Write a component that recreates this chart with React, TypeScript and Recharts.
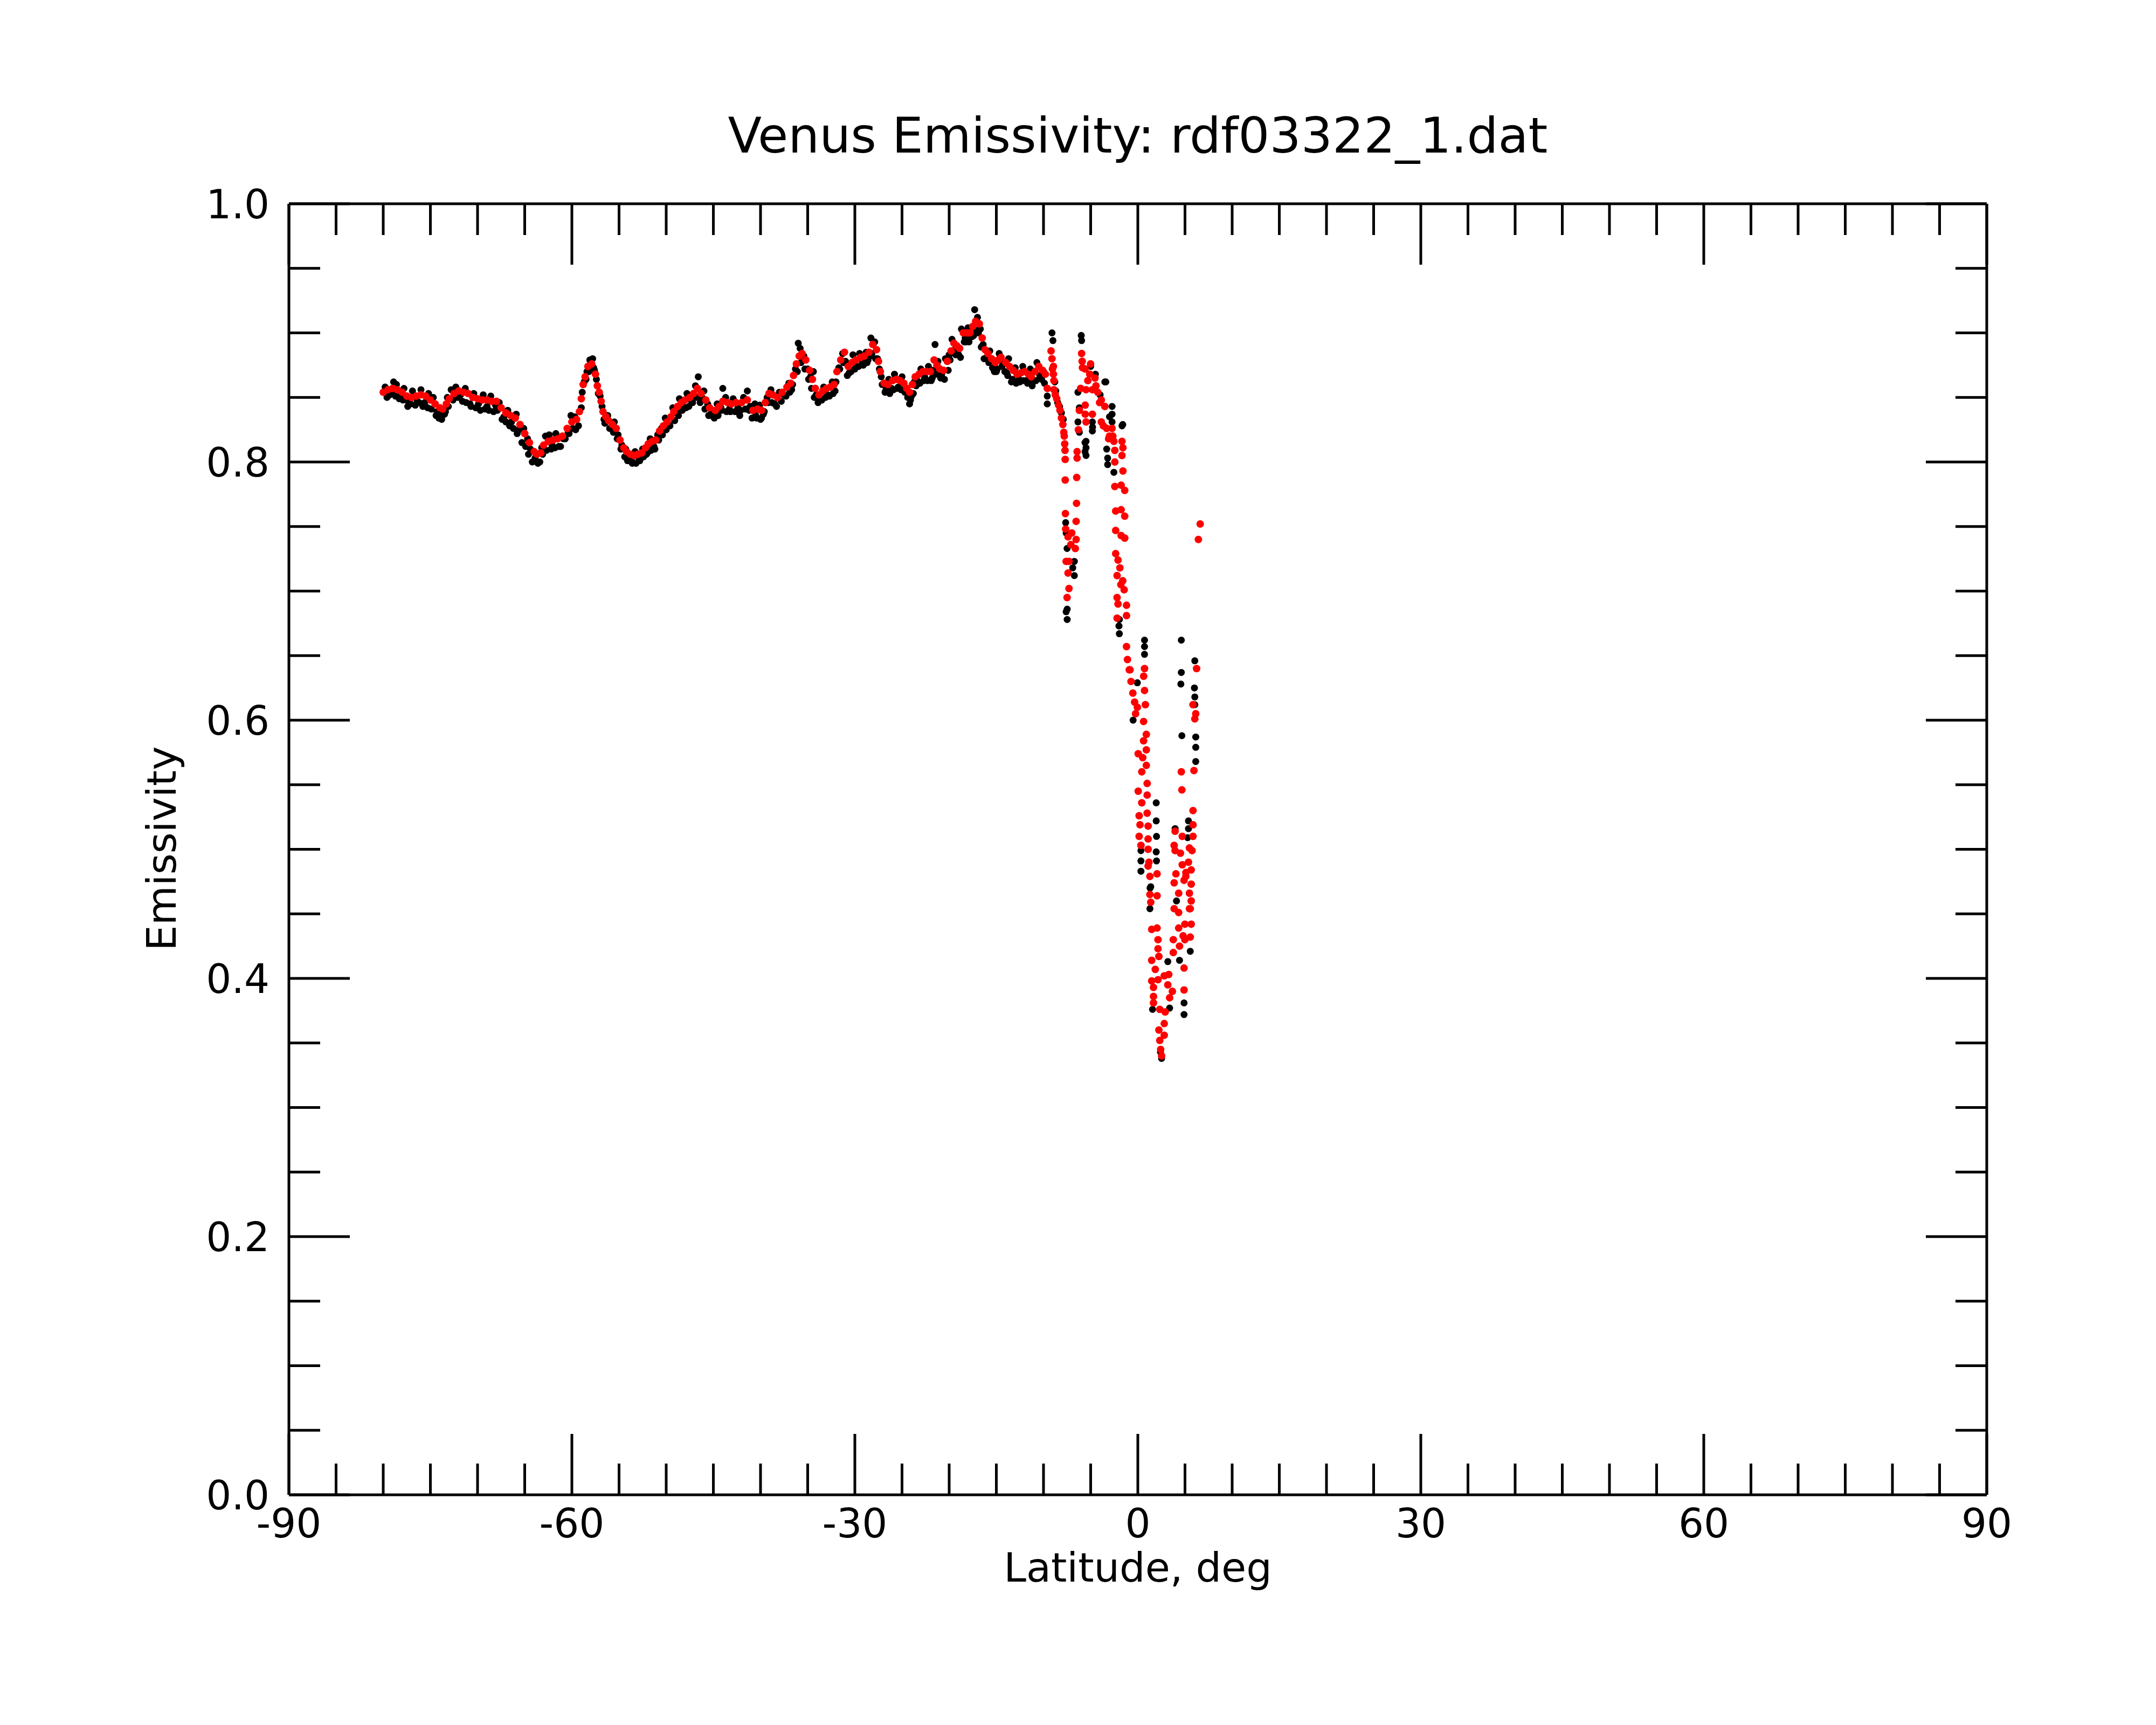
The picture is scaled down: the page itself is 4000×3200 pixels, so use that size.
import { Scatter, ScatterChart, XAxis, YAxis } from "recharts";

const TITULO = "Venus Emissivity: rdf03322_1.dat";
const ROTULO_X = "Latitude, deg";
const ROTULO_Y = "Emissivity";

const xTicks = [-90, -85, -80, -75, -70, -65, -60, -55, -50, -45, -40, -35, -30, -25, -20, -15, -10, -5, 0, 5, 10, 15, 20, 25, 30, 35, 40, 45, 50, 55, 60, 65, 70, 75, 80, 85, 90];
const xMajor = [-90, -60, -30, 0, 30, 60, 90];
const yTicks = [0, 0.05, 0.1, 0.15, 0.2, 0.25, 0.3, 0.35, 0.4, 0.45, 0.5, 0.55, 0.6, 0.65, 0.7, 0.75, 0.8, 0.85, 0.9, 0.95, 1.0];
const yMajor = [0, 0.2, 0.4, 0.6, 0.8, 1.0];

// [latitude, emissivity] — série vermelha (suavizada)
const redBand: [number, number][] = [
  [-80.0, 0.854], [-79.5, 0.856], [-79.0, 0.857], [-78.5, 0.856], [-78.0, 0.854], [-77.5, 0.851], [-77.0, 0.85],
  [-76.5, 0.851], [-76.0, 0.852], [-75.5, 0.851], [-75.0, 0.848], [-74.5, 0.845], [-74.0, 0.842], [-73.7, 0.841],
  [-73.3, 0.845], [-73.0, 0.849], [-72.5, 0.853], [-72.0, 0.855], [-71.5, 0.854], [-71.0, 0.853], [-70.5, 0.85],
  [-70.0, 0.849], [-69.5, 0.848], [-69.0, 0.848], [-68.5, 0.847], [-68.0, 0.847], [-67.5, 0.842], [-67.0, 0.838],
  [-66.5, 0.836], [-66.0, 0.834], [-65.5, 0.829], [-65.0, 0.822], [-64.5, 0.815], [-64.0, 0.808], [-63.7, 0.806],
  [-63.3, 0.807], [-63.0, 0.813], [-62.5, 0.816], [-62.0, 0.817], [-61.5, 0.818], [-61.0, 0.82], [-60.5, 0.826],
  [-60.0, 0.831], [-59.5, 0.833], [-59.2, 0.839], [-59.0, 0.849], [-58.8, 0.86], [-58.6, 0.866], [-58.3, 0.874],
  [-57.9, 0.876], [-57.5, 0.868], [-57.3, 0.859], [-57.1, 0.854], [-56.9, 0.847], [-56.7, 0.839], [-56.4, 0.835],
  [-56.1, 0.832], [-55.7, 0.829], [-55.3, 0.826], [-54.9, 0.817], [-54.5, 0.811], [-54.2, 0.808], [-53.8, 0.806],
  [-53.4, 0.805], [-53.0, 0.806], [-52.6, 0.807], [-52.2, 0.811], [-51.9, 0.814], [-51.5, 0.816], [-51.1, 0.817],
  [-50.7, 0.824], [-50.3, 0.828], [-49.9, 0.831], [-49.5, 0.835], [-49.2, 0.839], [-48.8, 0.843], [-48.4, 0.846],
  [-48.0, 0.848], [-47.5, 0.85], [-47.1, 0.853], [-46.7, 0.857], [-46.3, 0.853], [-45.8, 0.848], [-45.4, 0.842],
  [-44.8, 0.84], [-44.4, 0.843], [-44.0, 0.847], [-43.5, 0.846], [-43.1, 0.845], [-42.6, 0.846], [-42.0, 0.846],
  [-41.4, 0.848], [-40.8, 0.84], [-40.3, 0.841], [-39.9, 0.84], [-39.5, 0.846], [-39.1, 0.853], [-38.7, 0.852],
  [-38.2, 0.85], [-37.7, 0.854], [-37.2, 0.858], [-36.8, 0.861], [-36.5, 0.867], [-36.2, 0.876], [-35.9, 0.882],
  [-35.6, 0.884], [-35.2, 0.879], [-34.8, 0.871], [-34.5, 0.864], [-34.2, 0.857], [-33.8, 0.852], [-33.4, 0.855],
  [-33.0, 0.857], [-32.6, 0.858], [-32.2, 0.86], [-31.9, 0.87], [-31.5, 0.879], [-31.1, 0.885], [-30.7, 0.874],
  [-30.3, 0.877], [-29.9, 0.879], [-29.4, 0.881], [-29.0, 0.882], [-28.5, 0.885], [-28.1, 0.891], [-27.7, 0.887],
  [-27.5, 0.878], [-27.3, 0.87], [-26.9, 0.861], [-26.5, 0.86], [-26.0, 0.863], [-25.6, 0.864], [-25.2, 0.863],
  [-24.8, 0.861], [-24.5, 0.857], [-24.2, 0.854], [-23.9, 0.86], [-23.6, 0.866], [-23.2, 0.868], [-22.8, 0.87],
  [-22.4, 0.87], [-22.0, 0.87], [-21.6, 0.879], [-21.3, 0.875], [-21.0, 0.872], [-20.6, 0.871], [-20.2, 0.878],
  [-19.8, 0.886], [-19.5, 0.892], [-19.2, 0.89], [-18.9, 0.888], [-18.5, 0.9], [-18.1, 0.9], [-17.8, 0.9],
  [-17.5, 0.905], [-17.2, 0.909], [-16.8, 0.907], [-16.5, 0.896], [-16.2, 0.887], [-15.9, 0.884], [-15.5, 0.88],
  [-15.1, 0.877], [-14.8, 0.879], [-14.5, 0.881], [-14.0, 0.877], [-13.6, 0.874], [-13.2, 0.871], [-12.8, 0.868],
  [-12.4, 0.869], [-12.0, 0.87], [-11.6, 0.868], [-11.3, 0.866], [-10.9, 0.87], [-10.5, 0.874], [-10.1, 0.871],
  [-9.8, 0.868], [-9.6, 0.857],
];

const redDrop: [number, number][] = [
  [-9.2, 0.886], [-9.1, 0.88], [-9.05, 0.872], [-8.95, 0.874], [-8.95, 0.868], [-8.9, 0.863], [-8.9, 0.856],
  [-8.75, 0.852], [-8.6, 0.849], [-8.4, 0.844], [-8.25, 0.84], [-8.1, 0.834], [-7.95, 0.829], [-7.85, 0.823],
  [-7.8, 0.82], [-7.75, 0.814], [-7.72, 0.809], [-7.7, 0.802], [-7.7, 0.786], [-7.68, 0.76], [-7.65, 0.748],
  [-7.4, 0.742], [-7.0, 0.745], [-7.1, 0.736], [-7.3, 0.723], [-7.6, 0.723], [-7.4, 0.714], [-7.3, 0.702],
  [-7.5, 0.695], [-6.44, 0.808], [-6.44, 0.803], [-6.48, 0.788], [-6.5, 0.768], [-6.54, 0.754], [-6.54, 0.74],
  [-6.63, 0.733], [-5.96, 0.884], [-5.9, 0.878], [-5.87, 0.873], [-5.58, 0.872], [-5.01, 0.876], [-5.3, 0.863],
  [-5.1, 0.868], [-4.82, 0.856], [-5.49, 0.856], [-6.06, 0.857], [-6.2, 0.84], [-6.3, 0.825], [-5.58, 0.844],
  [-4.82, 0.837], [-5.58, 0.837], [-5.49, 0.831], [-4.54, 0.865], [-4.44, 0.859], [-4.25, 0.854], [-4.06, 0.846],
  [-3.87, 0.848], [-3.5, 0.843], [-3.87, 0.831], [-3.65, 0.828], [-3.3, 0.826], [-3.1, 0.818], [-3.01, 0.82],
  [-2.73, 0.826], [-2.65, 0.82], [-2.54, 0.816], [-2.44, 0.809], [-2.44, 0.8], [-1.68, 0.816], [-1.58, 0.811],
  [-1.68, 0.805], [-1.58, 0.793], [-1.77, 0.782], [-1.39, 0.778], [-2.44, 0.781], [-2.35, 0.762], [-1.77, 0.763],
  [-1.39, 0.758], [-2.35, 0.747], [-1.77, 0.743], [-1.39, 0.741], [-2.35, 0.729], [-2.1, 0.724], [-1.9, 0.718],
  [-2.2, 0.712], [-1.6, 0.708], [-1.8, 0.705], [-1.45, 0.701], [-2.2, 0.695], [-2.1, 0.69], [-1.2, 0.689],
  [-2.2, 0.679], [-1.2, 0.681], [-1.2, 0.657], [-1.1, 0.647], [-0.82, 0.639],
];

const redLow: [number, number][] = [
  [-0.91, 0.639], [-0.72, 0.63], [-0.53, 0.621], [-0.34, 0.614], [-0.24, 0.605], [-0.05, 0.61],
  [0.71, 0.64], [0.62, 0.634], [0.71, 0.623], [0.8, 0.612], [0.61, 0.599], [0.9, 0.589], [0.61, 0.584],
  [0.9, 0.577], [0.04, 0.574], [0.52, 0.571], [0.9, 0.565], [0.42, 0.56], [0.99, 0.551], [0.04, 0.545],
  [0.99, 0.542], [0.42, 0.536], [0.99, 0.528], [0.14, 0.526], [0.23, 0.519], [0.14, 0.51], [1.09, 0.518],
  [1.09, 0.508], [0.33, 0.503], [1.09, 0.5], [1.18, 0.49], [1.09, 0.487], [1.28, 0.479], [2.04, 0.481],
  [2.04, 0.464], [1.28, 0.465], [1.37, 0.459], [6.23, 0.64], [4.61, 0.56], [4.67, 0.546], [5.95, 0.561],
  [5.85, 0.612], [6.14, 0.605], [6.04, 0.601], [5.85, 0.53], [5.85, 0.519], [5.85, 0.51], [5.47, 0.501],
  [5.75, 0.499], [5.37, 0.49], [5.66, 0.484], [5.09, 0.479], [5.66, 0.473], [5.47, 0.466], [5.66, 0.46],
  [5.56, 0.454], [4.99, 0.442], [5.66, 0.442], [5.56, 0.432], [3.95, 0.514], [4.71, 0.51], [3.85, 0.503],
  [3.95, 0.499], [4.52, 0.497], [4.71, 0.488], [4.04, 0.481], [5.09, 0.482], [3.85, 0.474], [4.9, 0.476],
  [4.33, 0.466], [3.85, 0.454], [4.33, 0.451], [5.47, 0.454], [4.33, 0.439], [4.8, 0.433], [4.99, 0.43],
  [3.76, 0.43], [4.42, 0.425], [4.9, 0.408], [4.9, 0.391], [3.76, 0.42], [3.28, 0.403], [3.18, 0.395],
  [3.66, 0.39], [3.37, 0.385], [2.8, 0.402], [2.9, 0.374], [2.33, 0.376], [1.47, 0.438], [2.04, 0.439],
  [2.14, 0.43], [2.14, 0.423], [2.23, 0.417], [1.47, 0.414], [1.85, 0.407], [2.14, 0.399], [1.47, 0.398],
  [1.66, 0.393], [1.66, 0.386], [1.66, 0.381], [2.23, 0.36], [2.8, 0.365], [2.33, 0.352], [2.8, 0.356],
  [2.42, 0.345], [2.52, 0.34], [6.61, 0.752], [6.42, 0.74],
];

// série preta (dados brutos, mais espalhados)
const blackBand: [number, number][] = [
  [-79.8, 0.858], [-79.3, 0.852], [-78.9, 0.862], [-78.6, 0.86], [-78.2, 0.851], [-77.8, 0.857], [-77.3, 0.846],
  [-76.9, 0.855], [-76.4, 0.847], [-76.0, 0.856], [-75.6, 0.846], [-75.2, 0.853], [-74.7, 0.85], [-74.3, 0.839],
  [-73.9, 0.838], [-73.5, 0.837], [-73.2, 0.85], [-72.8, 0.856], [-72.3, 0.858], [-71.8, 0.852], [-71.3, 0.857],
  [-70.8, 0.845], [-70.4, 0.853], [-69.9, 0.845], [-69.4, 0.852], [-69.0, 0.843], [-68.6, 0.851], [-68.1, 0.844],
  [-67.7, 0.846], [-67.2, 0.835], [-66.8, 0.84], [-66.4, 0.831], [-65.9, 0.837], [-65.6, 0.825], [-65.1, 0.826],
  [-64.7, 0.818], [-64.4, 0.81], [-64.2, 0.8], [-63.9, 0.803], [-63.6, 0.799], [-63.2, 0.811], [-62.8, 0.82],
  [-62.4, 0.821], [-62.1, 0.813], [-61.7, 0.822], [-61.2, 0.812], [-60.9, 0.818], [-60.4, 0.823], [-60.1, 0.836],
  [-59.7, 0.835], [-59.3, 0.828], [-59.0, 0.842], [-58.7, 0.862], [-58.4, 0.87], [-58.1, 0.879], [-57.8, 0.88],
  [-57.6, 0.871], [-57.4, 0.864], [-57.0, 0.851], [-56.8, 0.843], [-56.5, 0.83], [-56.2, 0.836], [-55.8, 0.826],
  [-55.5, 0.831], [-55.1, 0.821], [-54.7, 0.813], [-54.3, 0.81], [-54.0, 0.803], [-53.7, 0.802], [-53.3, 0.808],
  [-52.9, 0.803], [-52.5, 0.81], [-52.1, 0.806], [-51.7, 0.818], [-51.3, 0.812], [-50.9, 0.821], [-50.5, 0.826],
  [-50.1, 0.834], [-49.7, 0.829], [-49.3, 0.842], [-48.9, 0.838], [-48.6, 0.849], [-48.2, 0.843], [-47.8, 0.853],
  [-47.3, 0.847], [-46.9, 0.859], [-46.6, 0.866], [-46.2, 0.85], [-46.0, 0.855], [-45.6, 0.845], [-45.2, 0.838],
  [-45.0, 0.835], [-44.6, 0.845], [-44.2, 0.842], [-44.0, 0.857], [-43.7, 0.85], [-43.3, 0.841], [-42.9, 0.849],
  [-42.4, 0.842], [-42.2, 0.836], [-41.8, 0.85], [-41.4, 0.855], [-41.1, 0.843], [-40.6, 0.845], [-40.5, 0.836],
  [-40.1, 0.844], [-39.9, 0.834], [-39.7, 0.837], [-39.3, 0.85], [-38.9, 0.856], [-38.5, 0.845], [-38.0, 0.854],
  [-37.5, 0.852], [-37.0, 0.861], [-36.7, 0.856], [-36.3, 0.872], [-36.0, 0.892], [-35.8, 0.888], [-35.4, 0.882],
  [-35.0, 0.872], [-34.7, 0.866], [-34.4, 0.87], [-34.1, 0.852], [-33.7, 0.849], [-33.3, 0.858], [-32.9, 0.852],
  [-32.4, 0.862], [-32.1, 0.855], [-31.7, 0.873], [-31.3, 0.884], [-31.0, 0.878], [-30.6, 0.869], [-30.2, 0.883],
  [-29.8, 0.874], [-29.5, 0.884], [-29.2, 0.878], [-28.8, 0.885], [-28.6, 0.879], [-28.3, 0.896], [-28.0, 0.892],
  [-27.9, 0.893], [-27.6, 0.88], [-27.2, 0.866], [-26.7, 0.856], [-26.4, 0.864], [-26.1, 0.857], [-25.8, 0.868],
  [-25.4, 0.858], [-25.0, 0.866], [-24.6, 0.856], [-24.2, 0.845], [-24.0, 0.851], [-23.7, 0.862], [-23.4, 0.863],
  [-23.0, 0.872], [-22.6, 0.866], [-22.2, 0.874], [-21.8, 0.865], [-21.5, 0.891], [-21.2, 0.878], [-20.8, 0.868],
  [-20.4, 0.88], [-20.0, 0.883], [-19.7, 0.895], [-19.4, 0.887], [-19.0, 0.883], [-18.7, 0.903], [-18.3, 0.896],
  [-18.0, 0.904], [-17.6, 0.897], [-17.3, 0.918], [-17.0, 0.912], [-16.7, 0.903], [-16.4, 0.891], [-16.0, 0.881],
  [-15.7, 0.886], [-15.3, 0.872], [-15.0, 0.87], [-14.7, 0.884], [-14.3, 0.876], [-13.9, 0.869], [-13.7, 0.88],
  [-13.4, 0.862], [-13.0, 0.873], [-12.6, 0.864], [-12.2, 0.874], [-11.8, 0.863], [-11.4, 0.872], [-11.1, 0.862],
  [-10.7, 0.877], [-10.3, 0.866], [-10.0, 0.87], [-9.6, 0.851], [-9.6, 0.845],
];

// pontos pretos logo abaixo da curva vermelha
const blackUnder: [number, number][] = [
  [-79.6, 0.85], [-79.1, 0.853], [-78.7, 0.851], [-78.3, 0.849], [-77.9, 0.848], [-77.4, 0.843], [-77.1, 0.845],
  [-76.6, 0.844], [-76.2, 0.846], [-75.8, 0.843], [-75.3, 0.842], [-74.9, 0.841], [-74.4, 0.836], [-74.1, 0.834],
  [-73.8, 0.833], [-73.4, 0.839], [-73.1, 0.843], [-72.6, 0.848], [-72.1, 0.85], [-71.6, 0.847], [-71.2, 0.846],
  [-70.7, 0.843], [-70.2, 0.842], [-69.7, 0.84], [-69.2, 0.841], [-68.8, 0.84], [-68.3, 0.839], [-67.9, 0.84],
  [-67.4, 0.833], [-67.0, 0.831], [-66.6, 0.828], [-66.2, 0.826], [-65.8, 0.822], [-65.3, 0.815], [-64.9, 0.812],
  [-64.6, 0.806], [-63.4, 0.8], [-63.1, 0.806], [-62.7, 0.809], [-62.2, 0.81], [-61.8, 0.811], [-61.4, 0.812],
  [-60.7, 0.818], [-60.3, 0.822], [-59.9, 0.826], [-59.6, 0.825], [-58.9, 0.854], [-58.5, 0.864], [-58.2, 0.87],
  [-57.7, 0.873], [-57.2, 0.853], [-56.6, 0.833], [-56.0, 0.826], [-55.6, 0.823], [-55.2, 0.818], [-54.8, 0.81],
  [-54.4, 0.804], [-54.1, 0.801], [-53.6, 0.799], [-53.2, 0.799], [-52.8, 0.801], [-52.4, 0.804], [-52.0, 0.807],
  [-51.6, 0.809], [-51.2, 0.81], [-50.8, 0.817], [-50.4, 0.821], [-50.0, 0.825], [-49.6, 0.828], [-49.1, 0.832],
  [-48.7, 0.836], [-48.3, 0.84], [-47.9, 0.842], [-47.6, 0.843], [-47.2, 0.846], [-46.8, 0.85], [-46.4, 0.846],
  [-45.9, 0.841], [-45.5, 0.836], [-44.9, 0.834], [-44.5, 0.836], [-44.1, 0.84], [-43.6, 0.839], [-43.2, 0.839],
  [-42.7, 0.839], [-42.1, 0.84], [-41.6, 0.841], [-41.2, 0.84], [-40.9, 0.834], [-40.4, 0.834], [-40.0, 0.833],
  [-39.6, 0.839], [-39.2, 0.846], [-38.8, 0.846], [-38.3, 0.843], [-37.8, 0.847], [-37.3, 0.851], [-36.9, 0.854],
  [-36.6, 0.86], [-36.1, 0.87], [-35.7, 0.877], [-35.3, 0.872], [-34.9, 0.864], [-34.6, 0.857], [-34.3, 0.85],
  [-33.9, 0.846], [-33.5, 0.848], [-33.1, 0.85], [-32.7, 0.851], [-32.3, 0.853], [-32.0, 0.862], [-31.6, 0.872],
  [-31.2, 0.877], [-30.8, 0.867], [-30.4, 0.87], [-30.0, 0.872], [-29.6, 0.874], [-29.1, 0.875], [-28.7, 0.877],
  [-28.4, 0.882], [-28.2, 0.884], [-27.8, 0.88], [-27.4, 0.872], [-27.1, 0.86], [-26.8, 0.854], [-26.3, 0.853],
  [-25.9, 0.856], [-25.5, 0.857], [-25.1, 0.856], [-24.7, 0.854], [-24.4, 0.85], [-24.1, 0.848], [-23.8, 0.853],
  [-23.5, 0.859], [-23.1, 0.861], [-22.7, 0.863], [-22.3, 0.863], [-21.9, 0.863], [-21.7, 0.871], [-21.4, 0.868],
  [-20.9, 0.865], [-20.5, 0.864], [-20.1, 0.871], [-19.9, 0.879], [-19.6, 0.885], [-19.3, 0.883], [-18.8, 0.881],
  [-18.4, 0.893], [-18.2, 0.893], [-17.9, 0.893], [-17.4, 0.898], [-17.1, 0.902], [-16.9, 0.9], [-16.6, 0.889],
  [-16.3, 0.88], [-15.8, 0.877], [-15.4, 0.873], [-15.2, 0.87], [-14.9, 0.872], [-14.4, 0.874], [-14.1, 0.87],
  [-13.8, 0.867], [-13.3, 0.864], [-12.9, 0.861], [-12.5, 0.862], [-12.1, 0.863], [-11.7, 0.861], [-11.2, 0.859],
  [-10.8, 0.863], [-10.4, 0.867], [-10.2, 0.864], [-9.9, 0.861],
];

const blackDrop: [number, number][] = [
  [-9.1, 0.9], [-9.0, 0.894], [-8.8, 0.862], [-8.7, 0.855], [-8.5, 0.846], [-8.3, 0.843], [-8.1, 0.838],
  [-7.9, 0.833], [-7.65, 0.753], [-7.6, 0.745], [-7.5, 0.733], [-7.49, 0.686], [-7.49, 0.678], [-7.6, 0.684],
  [-6.73, 0.723], [-6.73, 0.712], [-6.9, 0.718], [-6.0, 0.898], [-5.96, 0.894], [-6.35, 0.854], [-6.2, 0.842],
  [-6.35, 0.831], [-6.2, 0.823], [-5.49, 0.816], [-5.49, 0.811], [-5.49, 0.805], [-4.82, 0.831], [-4.82, 0.824],
  [-5.6, 0.815], [-5.6, 0.808], [-4.8, 0.827], [-3.39, 0.862], [-3.5, 0.862], [-2.73, 0.843], [-2.73, 0.837],
  [-2.73, 0.831], [-3.2, 0.803], [-3.2, 0.798], [-2.54, 0.792], [-1.68, 0.828], [-1.6, 0.829], [-3.3, 0.81],
  [-5.0, 0.874], [-4.5, 0.868], [-4.0, 0.852], [-3.0, 0.835],
];

const blackLow: [number, number][] = [
  [-1.96, 0.678], [-1.96, 0.667], [-2.0, 0.673], [0.71, 0.662], [0.71, 0.657], [0.71, 0.651], [-0.5, 0.6],
  [-0.05, 0.629], [1.95, 0.536], [1.95, 0.522], [1.98, 0.51], [1.95, 0.498], [1.98, 0.491], [0.33, 0.499],
  [0.33, 0.491], [0.33, 0.483], [1.37, 0.471], [1.28, 0.454], [4.61, 0.662], [4.61, 0.637], [4.56, 0.628],
  [4.67, 0.588], [6.04, 0.646], [6.0, 0.625], [6.04, 0.618], [6.04, 0.612], [6.14, 0.587], [6.14, 0.579],
  [6.14, 0.568], [3.95, 0.516], [5.37, 0.522], [5.37, 0.516], [5.28, 0.509], [4.1, 0.46], [5.56, 0.421],
  [4.42, 0.414], [3.18, 0.413], [4.9, 0.391], [4.9, 0.381], [4.9, 0.372], [1.56, 0.376], [3.37, 0.377],
  [2.52, 0.338], [2.4, 0.343], [1.3, 0.47],
];

const FONTE = "'DejaVu Sans', sans-serif";
const COR_LINHA = "#000";
const TICK_MAIOR = 113;
const TICK_MENOR = 58;

// caixa do gráfico em pixels da página
const ESQ = 536;
const DIR = 3686;
const TOPO = 378;
const BASE = 2773;

const ehMaior = (v: number, lista: number[]) => lista.some((m) => Math.abs(m - v) < 1e-6);

const paraPontos = (lista: [number, number][]) => lista.map(([lat, em]) => ({ lat, em }));

const pontosPretos = paraPontos([...blackBand, ...blackUnder, ...blackDrop, ...blackLow]);
const pontosVermelhos = paraPontos([...redBand, ...redDrop, ...redLow]);

function TickBaixo(props: any) {
  const { x, y, payload } = props;
  const maior = ehMaior(payload.value, xMajor);
  return (
    <g>
      <line x1={x} y1={y} x2={x} y2={y - (maior ? TICK_MAIOR : TICK_MENOR)} stroke={COR_LINHA} strokeWidth={5} />
      {maior && (
        <text x={x} y={y + 79} textAnchor="middle" fontFamily={FONTE} fontSize={74} fill="#000">
          {payload.value}
        </text>
      )}
    </g>
  );
}

function TickTopo(props: any) {
  const { x, y, payload } = props;
  const maior = ehMaior(payload.value, xMajor);
  return <line x1={x} y1={y} x2={x} y2={y + (maior ? TICK_MAIOR : TICK_MENOR)} stroke={COR_LINHA} strokeWidth={5} />;
}

function TickEsq(props: any) {
  const { x, y, payload } = props;
  const maior = ehMaior(payload.value, yMajor);
  return (
    <g>
      <line x1={x} y1={y} x2={x + (maior ? TICK_MAIOR : TICK_MENOR)} y2={y} stroke={COR_LINHA} strokeWidth={5} />
      {maior && (
        <text x={x - 36} y={y + 27} textAnchor="end" fontFamily={FONTE} fontSize={74} fill="#000">
          {Number(payload.value).toFixed(1)}
        </text>
      )}
    </g>
  );
}

function TickDir(props: any) {
  const { x, y, payload } = props;
  const maior = ehMaior(payload.value, yMajor);
  return <line x1={x} y1={y} x2={x - (maior ? TICK_MAIOR : TICK_MENOR)} y2={y} stroke={COR_LINHA} strokeWidth={5} />;
}

const ponto = (cor: string, r: number) => (props: any) => <circle cx={props.cx} cy={props.cy} r={r} fill={cor} />;

export default function App() {
  const eixo = { stroke: COR_LINHA, strokeWidth: 5 };
  return (
    <div style={{ position: "absolute", left: 0, top: 0, width: 4000, height: 3200, background: "#fff" }}>
      <ScatterChart
        width={4000}
        height={3200}
        margin={{ top: TOPO - 50, right: 4000 - DIR - 50, bottom: 3200 - BASE - 50, left: ESQ - 50 }}
      >
        <XAxis
          xAxisId="baixo"
          dataKey="lat"
          type="number"
          domain={[-90, 90]}
          ticks={xTicks}
          interval={0}
          orientation="bottom"
          height={50}
          tickSize={0}
          tickMargin={0}
          tickLine={false}
          axisLine={eixo}
          tick={<TickBaixo />}
        />
        <XAxis
          xAxisId="topo"
          dataKey="lat"
          type="number"
          domain={[-90, 90]}
          ticks={xTicks}
          interval={0}
          orientation="top"
          height={50}
          tickSize={0}
          tickMargin={0}
          tickLine={false}
          axisLine={eixo}
          tick={<TickTopo />}
        />
        <YAxis
          yAxisId="esq"
          dataKey="em"
          type="number"
          domain={[0, 1]}
          ticks={yTicks}
          interval={0}
          orientation="left"
          width={50}
          tickSize={0}
          tickMargin={0}
          tickLine={false}
          axisLine={eixo}
          tick={<TickEsq />}
        />
        <YAxis
          yAxisId="dir"
          dataKey="em"
          type="number"
          domain={[0, 1]}
          ticks={yTicks}
          interval={0}
          orientation="right"
          width={50}
          tickSize={0}
          tickMargin={0}
          tickLine={false}
          axisLine={eixo}
          tick={<TickDir />}
        />
        <Scatter
          data={pontosPretos}
          xAxisId="baixo"
          yAxisId="esq"
          fill="#000"
          shape={ponto("#000", 6.5)}
          isAnimationActive={false}
        />
        <Scatter
          data={pontosVermelhos}
          xAxisId="topo"
          yAxisId="dir"
          fill="#ff0000"
          shape={ponto("#ff0000", 7)}
          isAnimationActive={false}
        />
        <text x={(ESQ + DIR) / 2} y={283} textAnchor="middle" fontFamily={FONTE} fontSize={91.5} fill="#000">
          {TITULO}
        </text>
        <text x={(ESQ + DIR) / 2} y={2934} textAnchor="middle" fontFamily={FONTE} fontSize={75} fill="#000">
          {ROTULO_X}
        </text>
        <text
          x={326}
          y={1574}
          transform="rotate(-90 326 1574)"
          textAnchor="middle"
          fontFamily={FONTE}
          fontSize={75}
          fill="#000"
        >
          {ROTULO_Y}
        </text>
      </ScatterChart>
    </div>
  );
}
